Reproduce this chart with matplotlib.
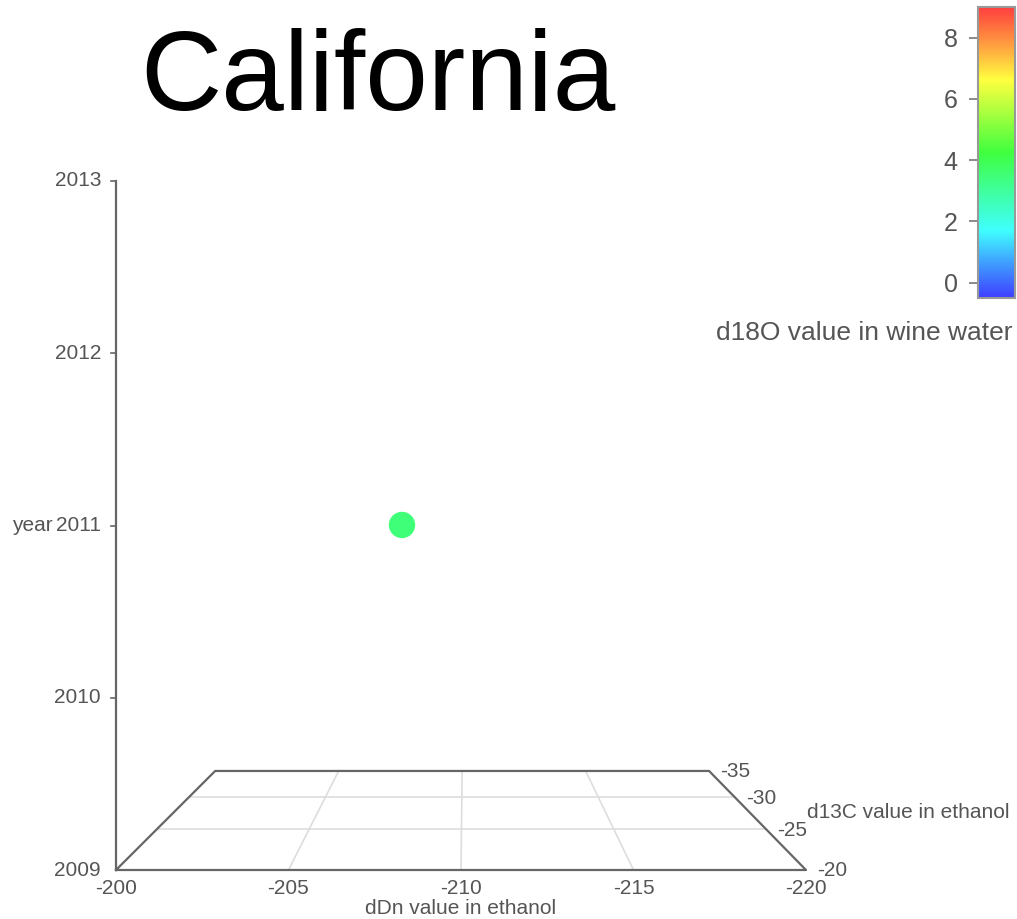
import numpy as np
import matplotlib
matplotlib.use('Agg')
import matplotlib.pyplot as plt
from matplotlib.colors import LinearSegmentedColormap, Normalize
from matplotlib.cm import ScalarMappable

plt.rcParams['font.family'] = ['Liberation Sans', 'DejaVu Sans']

# data (one sample from California)
region = 'California'
ddn = [-208.0]
d13c = [-26.0]
year = [2011]
d18o = [3.5]

ddn_ticks = [-200, -205, -210, -215, -220]
d13c_ticks = [-20, -25, -30, -35]
year_ticks = [2009, 2010, 2011, 2012, 2013]
d18o_ticks = [0, 2, 4, 6, 8]

# simple perspective projection onto the screen (pixel coords)
vp = (465.0, 521.5)
front_x0, front_x1 = 116.0, 806.0
front_y0, front_y1 = 870.0, 181.0


def project(dn, c, yr):
    fx = front_x0 + (dn - -200) / (-220 - -200) * (front_x1 - front_x0)
    fy = front_y0 + (yr - 2009) / (2013 - 2009) * (front_y1 - front_y0)
    z = (c - -20) / (-35 - -20)
    s = 1.0 / (1 + 0.397 * z)
    return vp[0] + (fx - vp[0]) * s, vp[1] + (fy - vp[1]) * s


fig = plt.figure(figsize=(10.17, 9.19), dpi=100)
ax = fig.add_axes([0, 0, 1, 1])
ax.set_xlim(0, 1017)
ax.set_ylim(919, 0)
ax.axis('off')

dark = '#666666'
light = '#dddddd'
txt = '#555555'

# floor grid
for c in d13c_ticks[1:-1]:
    p0 = project(-200, c, 2009)
    p1 = project(-220, c, 2009)
    ax.plot([p0[0], p1[0]], [p0[1], p1[1]], color=light, lw=1.2, zorder=1)
for dn in ddn_ticks[1:-1]:
    p0 = project(dn, -20, 2009)
    p1 = project(dn, -35, 2009)
    ax.plot([p0[0], p1[0]], [p0[1], p1[1]], color=light, lw=1.2, zorder=1)

# floor outline
corners = [(-200, -20), (-220, -20), (-220, -35), (-200, -35), (-200, -20)]
pts = [project(dn, c, 2009) for dn, c in corners]
ax.plot([p[0] for p in pts], [p[1] for p in pts], color=dark, lw=1.6, zorder=2)

# year axis
p0 = project(-200, -20, 2009)
p1 = project(-200, -20, 2013)
ax.plot([p0[0], p1[0]], [p0[1], p1[1]], color=dark, lw=1.6, zorder=2)
for yr in year_ticks:
    px, py = project(-200, -20, yr)
    if yr != 2009:
        ax.plot([px - 5, px], [py, py], color=dark, lw=1.2)
    ax.text(px - 15, py, str(yr), ha='right', va='center', fontsize=15, color=txt)
ax.text(53, project(-200, -20, 2011)[1], 'year', ha='right', va='center',
        fontsize=15, color=txt)

# dDn axis labels
for dn in ddn_ticks:
    px, py = project(dn, -20, 2009)
    ax.text(px, py + 19, str(dn), ha='center', va='center', fontsize=15, color=txt)
ax.text(project(-210, -20, 2009)[0], 908, 'dDn value in ethanol', ha='center',
        va='center', fontsize=15, color=txt)

# d13C axis labels
for c in d13c_ticks:
    px, py = project(-220, c, 2009)
    ax.text(px + 11, py + 1, str(c), ha='left', va='center', fontsize=15, color=txt)
ax.text(807, 813, 'd13C value in ethanol', ha='left', va='center',
        fontsize=15, color=txt)

# colormap
cmap = LinearSegmentedColormap.from_list('rainbow_light', [
    (0.0, '#3f3fff'), (0.12, '#3f9fff'), (0.23, '#3fffff'), (0.5, '#3fff3f'),
    (0.75, '#ffff3f'), (0.87, '#ff9f3f'), (1.0, '#ff3f3f')])
norm = Normalize(vmin=-0.5, vmax=9)

# points
xs, ys = zip(*[project(a, b, c) for a, b, c in zip(ddn, d13c, year)])
ax.scatter(xs, ys, c=d18o, cmap=cmap, norm=norm, s=360, edgecolors='none', zorder=5)

# title
fig.text(140 / 1017, 1 - 110 / 919, region, fontsize=81, color='black',
         ha='left', va='baseline')

# colorbar
cax = fig.add_axes([977.7 / 1017, 1 - 298 / 919, 37.5 / 1017, 291 / 919])
cb = fig.colorbar(ScalarMappable(norm=norm, cmap=cmap), cax=cax, ticks=d18o_ticks)
cb.outline.set_edgecolor('#999999')
cb.outline.set_linewidth(1.5)
cax.yaxis.set_ticks_position('left')
cax.tick_params(axis='y', length=6.5, width=1.2, color='#777777',
                labelsize=18, labelcolor=txt, pad=8)
fig.text(1013 / 1017, 1 - 333 / 919, 'd18O value in wine water', ha='right',
         va='center', fontsize=19, color=txt)

fig.savefig('out.png', dpi=100)
